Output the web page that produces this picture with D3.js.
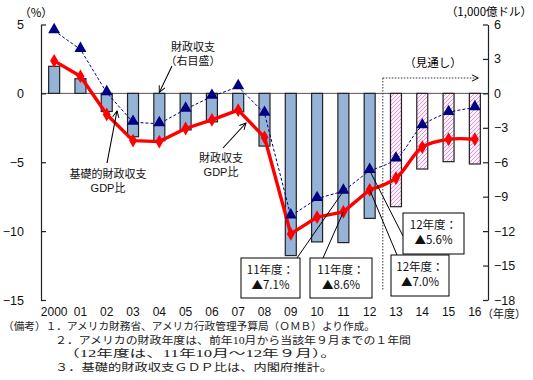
<!DOCTYPE html>
<html><head><meta charset="utf-8">
<script src="https://cdn.jsdelivr.net/npm/d3@7"></script>
<style>body{margin:0;background:#fff} svg{display:block}</style>
</head><body><svg id="c" width="533" height="380"></svg>
<script>
// ---- data ----
const categories = ["2000","01","02","03","04","05","06","07","08","09","10","11","12","13","14","15","16"];
// 財政収支 (1,000億ドル, right axis) – bars
const balance = [2.36,1.28,-1.58,-3.78,-4.13,-3.18,-2.48,-1.61,-4.59,-14.13,-12.94,-13.0,-10.89,-9.87,-6.59,-5.95,-6.15];
// 基礎的財政収支GDP比 (%, left axis) – triangles
const primaryGDP = [4.55,3.19,0.05,-2.1,-2.2,-1.15,-0.22,0.48,-1.45,-8.9,-7.64,-7.1,-5.6,-4.77,-2.36,-1.4,-1.04];
// 財政収支GDP比 (%, left axis) – red diamonds
const overallGDP = [2.36,1.24,-1.53,-3.43,-3.5,-2.55,-1.92,-1.22,-3.19,-10.2,-8.98,-8.6,-7.0,-6.15,-3.9,-3.33,-3.33];
const leftTicks = [5,0,-5,-10,-15];
const rightTicks = [6,3,0,-3,-6,-9,-12,-15,-18];
const forecastStart = "13";
const notes = [
  "（備考）１．アメリカ財務省、アメリカ行政管理予算局（ＯＭＢ）より作成。",
  "２．アメリカの財政年度は、前年10月から当該年９月までの１年間",
  "（12年度は、11年10月～12年９月）。",
  "３．基礎的財政収支ＧＤＰ比は、内閣府推計。"
];

const FONT = "'Liberation Sans', Arial, 'Noto Sans CJK JP', sans-serif";
const JFONT = "'Noto Sans CJK JP', sans-serif";
const NFONT = "'Liberation Serif', 'Noto Sans CJK JP', serif";

const svg = d3.select("#c");
const L = 41, R = 488, T = 24.5, B = 300;
const x = d3.scaleBand().domain(categories).range([L, R]);
const yL = d3.scaleLinear().domain([-15, 5]).range([B, T]);
const yR = d3.scaleLinear().domain([-18, 6]).range([B, T]);
const cx = c => x(c) + x.bandwidth() / 2;
const isFc = i => categories.indexOf(forecastStart) <= i;

// defs
const defs = svg.append("defs");
const pat = defs.append("pattern").attr("id", "hatch")
  .attr("patternUnits", "userSpaceOnUse").attr("width", 4).attr("height", 4);
pat.append("rect").attr("width", 4).attr("height", 4).attr("fill", "#fcf0fa");
pat.append("path").attr("d", "M-1,1 l2,-2 M0,4 l4,-4 M3,5 l2,-2")
  .attr("stroke", "#dd99d6").attr("stroke-width", 1);
defs.append("marker").attr("id", "arr").attr("viewBox", "0 0 10 10")
  .attr("refX", 9).attr("refY", 5).attr("markerWidth", 8).attr("markerHeight", 8)
  .attr("orient", "auto").attr("markerUnits", "userSpaceOnUse")
  .append("path").attr("d", "M1,1 L9,5 L1,9").attr("fill", "none").attr("stroke", "#000").attr("stroke-width", 1.2);

// zero line
svg.append("line").attr("x1", L).attr("x2", R).attr("y1", yL(0)).attr("y2", yL(0))
  .attr("stroke", "#555").attr("stroke-width", 1);

// bars
const bw = 11;
svg.append("g").selectAll("rect").data(balance).join("rect")
  .attr("x", (d, i) => cx(categories[i]) - bw / 2)
  .attr("y", d => yR(Math.max(d, 0)))
  .attr("width", bw)
  .attr("height", d => Math.abs(yR(d) - yR(0)))
  .attr("fill", (d, i) => isFc(i) ? "url(#hatch)" : "#95b3d7")
  .attr("stroke", "#222").attr("stroke-width", 1.2);

// forecast dotted bracket
const fx = x(forecastStart), fy = 78;
svg.append("line").attr("x1", fx).attr("x2", fx).attr("y1", fy).attr("y2", 290)
  .attr("stroke", "#333").attr("stroke-width", 1).attr("stroke-dasharray", "1.5,1.5");
svg.append("line").attr("x1", fx).attr("x2", x("16") + x.bandwidth() * 0.63).attr("y1", fy).attr("y2", fy)
  .attr("stroke", "#333").attr("stroke-width", 1).attr("stroke-dasharray", "1.5,1.5")
  .attr("marker-end", "url(#arr)");
svg.append("text").attr("x", 433).attr("y", 67).attr("text-anchor", "middle")
  .attr("font-family", JFONT).attr("font-size", 11.5).text("（見通し）");

// lines
const idx = d3.range(categories.length);
const fcI = categories.indexOf(forecastStart) - 1;
function drawLine(vals, style, curve2) {
  const ln = d3.line().x(i => cx(categories[i])).y(i => yL(vals[i]));
  const p1 = idx.filter(i => i <= fcI), p2 = idx.filter(i => i >= fcI);
  const g = svg.append("g");
  [[p1, d3.curveLinear], [p2, curve2]].forEach(([pts, cv]) => {
    const path = g.append("path").attr("d", ln.curve(cv)(pts)).attr("fill", "none");
    Object.entries(style).forEach(([k, v]) => path.attr(k, v));
  });
  return g;
}
drawLine(overallGDP, {"stroke": "#ff0000", "stroke-width": 3.4, "stroke-linejoin": "round"}, d3.curveCatmullRom.alpha(0.5));
svg.append("g").selectAll("path").data(overallGDP).join("path")
  .attr("transform", (d, i) => `translate(${cx(categories[i])},${yL(d)})`)
  .attr("d", d3.symbol(d3.symbolDiamond, 55)).attr("fill", "#ff0000");

drawLine(primaryGDP, {"stroke": "#000080", "stroke-width": 1, "stroke-dasharray": "3,2"}, d3.curveCatmullRom.alpha(0.5));
svg.append("g").selectAll("path").data(primaryGDP).join("path")
  .attr("transform", (d, i) => `translate(${cx(categories[i])},${yL(d) - 1})`)
  .attr("d", d3.symbol(d3.symbolTriangle, 62)).attr("fill", "#000080");

// axes
const axL = svg.append("g").attr("transform", `translate(${L},0)`)
  .call(d3.axisLeft(yL).tickValues(leftTicks).tickSizeInner(-5).tickSizeOuter(0).tickPadding(17));
const axR = svg.append("g").attr("transform", `translate(${R},0)`)
  .call(d3.axisRight(yR).tickValues(rightTicks).tickSizeInner(-5).tickSizeOuter(0).tickPadding(6));
[axL, axR].forEach(a => {
  a.attr("font-family", FONT).attr("font-size", 12.5);
  a.selectAll("path,line").attr("stroke", "#222").attr("stroke-width", 1.2);
  a.selectAll("text").attr("fill", "#111");
});
const axB = svg.append("g").attr("transform", `translate(0,${B})`)
  .call(d3.axisBottom(x).tickSize(0).tickPadding(7.5));
axB.select(".domain").remove();
axB.attr("font-family", FONT).attr("font-size", 12);
axB.selectAll("text").attr("fill", "#111");
svg.append("text").attr("x", 482).attr("y", 318).attr("font-family", FONT).attr("font-size", 11)
  .attr("fill", "#111").text("（年度）");

svg.append("text").attr("x", 36).attr("y", 17).attr("text-anchor", "middle")
  .attr("font-family", JFONT).attr("font-size", 11.5).text("（%）");
svg.append("text").attr("x", 489).attr("y", 16).attr("text-anchor", "middle")
  .attr("font-family", JFONT).attr("font-size", 11.5).text("（1,000億ドル）");

// series labels with arrows
function label(lines, xc, y0) {
  const t = svg.append("text").attr("font-family", FONT).attr("font-size", 11)
    .attr("text-anchor", "middle").attr("fill", "#111");
  lines.forEach((s, k) => t.append("tspan").attr("x", xc).attr("y", y0 + k * 14).text(s));
}
function arrow(x1, y1, x2, y2) {
  svg.append("line").attr("x1", x1).attr("y1", y1).attr("x2", x2).attr("y2", y2)
    .attr("stroke", "#000").attr("stroke-width", 1.1).attr("marker-end", "url(#arr)");
}
label(["財政収支", "（右目盛）"], 193, 51);
arrow(172, 66, cx("04"), yR(0) - 1);
label(["財政収支", "GDP比"], 221, 162);
arrow(223, 148, 246, 123);
label(["基礎的財政収支", "GDP比"], 108, 178);
arrow(107, 163, 117, 111);

// value call-out boxes
function callout(bx, by, w, h, lines, ax, ay, tx, ty) {
  svg.append("line").attr("x1", ax).attr("y1", ay).attr("x2", tx).attr("y2", ty)
    .attr("stroke", "#000").attr("stroke-width", 1);
  svg.append("rect").attr("x", bx).attr("y", by).attr("width", w).attr("height", h)
    .attr("fill", "#fff").attr("stroke", "#000").attr("stroke-width", 1);
  const t = svg.append("text").attr("font-family", JFONT).attr("font-size", 11.5)
    .attr("text-anchor", "middle").attr("fill", "#111");
  lines.forEach((s, k) => t.append("tspan").attr("x", bx + w / 2).attr("y", by + 16 + k * 15).text(s));
}
const i11 = categories.indexOf("11"), i12 = categories.indexOf("12");
callout(241, 258, 59, 40, ["11年度：", "▲7.1%"], 297, 258, cx("11"), yL(primaryGDP[i11]));
callout(310, 258, 62, 40, ["11年度：", "▲8.6%"], 323, 258, cx("11"), yL(overallGDP[i11]));
callout(403, 213, 61, 41, ["12年度：", "▲5.6%"], 403, 236, cx("12"), yL(primaryGDP[i12]));
callout(391, 255, 58, 41, ["12年度：", "▲7.0%"], 397, 255, cx("12"), yL(overallGDP[i12]));

// notes
const nx = [3, 55, 63, 55], ny = [330, 343.5, 357, 370.5], nw = [372, 356, 274, 278];
notes.forEach((s, k) => svg.append("text").attr("x", nx[k]).attr("y", ny[k])
  .attr("font-family", NFONT).attr("font-size", 10.5).attr("fill", "#222")
  .attr("textLength", nw[k]).attr("lengthAdjust", "spacingAndGlyphs").text(s));
</script></body></html>
